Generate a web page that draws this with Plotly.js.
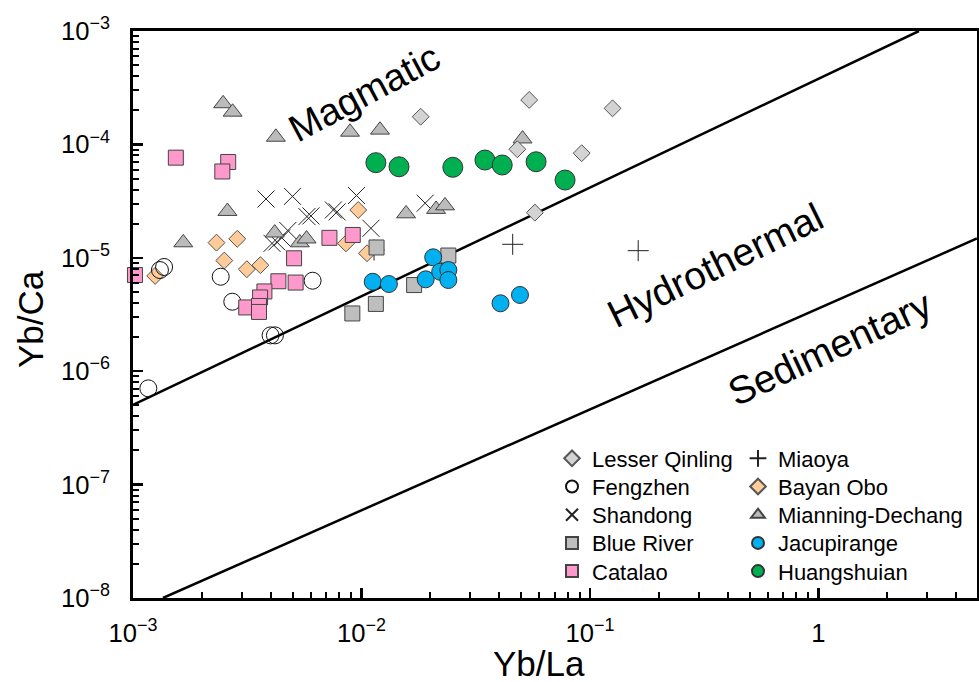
<!DOCTYPE html>
<html>
<head>
<meta charset="utf-8">
<script src="https://cdn.plot.ly/plotly-3.0.1.min.js"></script>
<style>html,body{margin:0;padding:0;background:#fff;}#chart{width:979px;height:682px;}</style>
</head>
<body>
<div id="chart"></div>
<script>
// ---- data (Yb/La, Yb/Ca) ----
const lesserQinlingX = [0.01816, 0.0542, 0.1256, 0.0481, 0.092, 0.0574];
const lesserQinlingY = [1.754e-4, 2.466e-4, 2.08e-4, 9.06e-5, 8.36e-5, 2.50e-5];

const fengzhenX = [0.001368, 0.001312, 0.00242, 0.00272, 0.00611, 0.0040, 0.00418, 0.001167];
const fengzhenY = [8.30e-6, 7.80e-6, 6.81e-6, 4.10e-6, 6.28e-6, 2.07e-6, 2.07e-6, 7.06e-7];

const shandongX = [0.00382, 0.00499, 0.00951, 0.00577, 0.00601, 0.00753, 0.00782, 0.0110, 0.0190, 0.00476, 0.00448, 0.00426, 0.00406];
const shandongY = [3.30e-5, 3.48e-5, 3.54e-5, 2.31e-5, 2.34e-5, 2.64e-5, 2.54e-5, 1.82e-5, 3.03e-5, 1.74e-5, 1.50e-5, 1.38e-5, 1.34e-5];

const blueRiverX = [0.01164, 0.0240, 0.0170, 0.01156, 0.00912];
const blueRiverY = [1.233e-5, 1.047e-5, 5.75e-6, 3.92e-6, 3.23e-6];

const catalaoX = [0.00154, 0.00261, 0.00246, 0.00102, 0.00724, 0.00916, 0.00507, 0.00433, 0.00515, 0.00376, 0.00360, 0.00313, 0.00356, 0.00356];
const catalaoY = [7.64e-5, 7.0e-5, 5.77e-5, 7.05e-6, 1.50e-5, 1.59e-5, 9.9e-6, 6.21e-6, 6.05e-6, 5.05e-6, 4.47e-6, 3.65e-6, 3.76e-6, 3.33e-6];

const miaoyaX = [0.0459, 0.1626, 0.01135];
const miaoyaY = [1.315e-5, 1.156e-5, 1.17e-5];

const bayanOboX = [0.00125, 0.00232, 0.00286, 0.00251, 0.00315, 0.00361, 0.00968, 0.00855, 0.01057];
const bayanOboY = [6.92e-6, 1.36e-5, 1.47e-5, 9.46e-6, 7.93e-6, 8.61e-6, 2.64e-5, 1.34e-5, 1.097e-5];

const mianningX = [0.00248, 0.00273, 0.00422, 0.00891, 0.01205, 0.00259, 0.00166, 0.00417, 0.00537, 0.00575, 0.01567, 0.0212, 0.0232, 0.0507];
const mianningY = [2.29e-4, 1.93e-4, 1.16e-4, 1.285e-4, 1.34e-4, 2.57e-5, 1.36e-5, 1.66e-5, 1.36e-5, 1.47e-5, 2.45e-5, 2.68e-5, 2.88e-5, 1.12e-4];

const jacupirangeX = [0.0112, 0.01318, 0.0206, 0.0191, 0.0221, 0.0240, 0.0240, 0.0406, 0.0494];
const jacupirangeY = [6.15e-6, 5.87e-6, 1.01e-5, 6.46e-6, 7.53e-6, 7.80e-6, 6.37e-6, 3.97e-6, 4.70e-6];

const huangshuianX = [0.01156, 0.0146, 0.0251, 0.0347, 0.0413, 0.0581, 0.0778];
const huangshuianY = [6.90e-5, 6.35e-5, 6.28e-5, 7.28e-5, 6.58e-5, 7.03e-5, 4.85e-5];

// field boundaries
const boundary1X = [1e-3, 2.754];
const boundary1Y = [5.04e-7, 1e-3];
const boundary2X = [1.352e-3, 4.94];
const boundary2Y = [1e-8, 1.48e-5];

const fieldLabels = ['Magmatic', 'Hydrothermal', 'Sedimentary'];

// ---- traces ----
const FONT = 'Liberation Sans, Arial, sans-serif';
function pts(name, x, y, marker, legendId) {
  return {type: 'scatter', mode: 'markers', name: name, x: x, y: y, marker: marker,
          legend: legendId, cliponaxis: false, hoverinfo: 'x+y+name'};
}
const traces = [
  {type: 'scatter', mode: 'lines', x: boundary1X, y: boundary1Y, line: {color: '#000', width: 2.5}, showlegend: false, hoverinfo: 'skip'},
  {type: 'scatter', mode: 'lines', x: boundary2X, y: boundary2Y, line: {color: '#000', width: 2.5}, showlegend: false, hoverinfo: 'skip'},
  pts('Miaoya', miaoyaX, miaoyaY, {symbol: 'cross-thin', size: 15, color: '#222', line: {color: '#222', width: 1}}, 'legend6'),
  pts('Shandong', shandongX, shandongY, {symbol: 'x-thin', size: 17, color: '#222', line: {color: '#222', width: 1}}, 'legend3'),
  pts('Bayan Obo', bayanOboX, bayanOboY, {symbol: 'diamond', size: 13, color: '#FFCC99', line: {color: '#555', width: 1}}, 'legend7'),
  pts('Fengzhen', fengzhenX, fengzhenY, {symbol: 'circle-open', size: 17, color: '#111', line: {color: '#111', width: 1}}, 'legend2'),
  pts('Mianning-Dechang', mianningX, mianningY, {symbol: 'triangle-up', size: 16.5, color: '#BBBBBB', line: {color: '#444', width: 1}}, 'legend8'),
  pts('Catalao', catalaoX, catalaoY, {symbol: 'square', size: 15, color: '#FF99CC', line: {color: '#444', width: 1}}, 'legend5'),
  pts('Blue River', blueRiverX, blueRiverY, {symbol: 'square', size: 15, color: '#BEBEBE', line: {color: '#444', width: 1}}, 'legend4'),
  pts('Lesser Qinling', lesserQinlingX, lesserQinlingY, {symbol: 'diamond', size: 13, color: '#D3D3D3', line: {color: '#555', width: 1}}, 'legend'),
  pts('Jacupirange', jacupirangeX, jacupirangeY, {symbol: 'circle', size: 17, color: '#00B0F0', line: {color: '#333', width: 1}}, 'legend9'),
  pts('Huangshuian', huangshuianX, huangshuianY, {symbol: 'circle', size: 20, color: '#00B050', line: {color: '#333', width: 1}}, 'legend10')
];

// ---- layout ----
const L = 133, R = 977, T = 31, B = 598;
const PW = R - L, PH = B - T;
const px = v => (v - L) / PW;
const py = v => (B - v) / PH;

const axisCommon = {
  type: 'log', dtick: 1, exponentformat: 'power',
  showline: true, linecolor: '#000', linewidth: 3, mirror: true,
  ticks: 'inside', ticklen: 10, tickwidth: 2.5, tickcolor: '#000',
  showgrid: false, zeroline: false,
  tickfont: {family: FONT, size: 20.5, color: '#000'},
  minor: {ticks: 'inside', ticklen: 6, tickwidth: 2, tickcolor: '#000', dtick: 'D1', showgrid: false}
};

const layout = {
  width: 979, height: 682,
  margin: {l: L, r: 979 - R, t: T, b: 682 - B, autoexpand: false},
  paper_bgcolor: '#fff', plot_bgcolor: '#fff',
  font: {family: FONT, color: '#000'},
  xaxis: Object.assign({}, axisCommon, {range: [-3, 0.694], ticklabelstandoff: 11}),
  yaxis: Object.assign({}, axisCommon, {range: [-8, -3], ticklabelstandoff: 16}),
  annotations: [
    {text: 'Yb/La', xref: 'paper', yref: 'paper', x: px(539), y: py(664), showarrow: false,
     font: {family: FONT, size: 35}, xanchor: 'center', yanchor: 'middle'},
    {text: 'Yb/Ca', xref: 'paper', yref: 'paper', x: px(30), y: py(319), showarrow: false, textangle: -90,
     font: {family: FONT, size: 35}, xanchor: 'center', yanchor: 'middle'},
    {text: fieldLabels[0], xref: 'paper', yref: 'paper', x: px(364), y: py(93), showarrow: false, textangle: -28,
     font: {family: FONT, size: 38}, xanchor: 'center', yanchor: 'middle'},
    {text: fieldLabels[1], xref: 'paper', yref: 'paper', x: px(715), y: py(265), showarrow: false, textangle: -26,
     font: {family: FONT, size: 39}, xanchor: 'center', yanchor: 'middle'},
    {text: fieldLabels[2], xref: 'paper', yref: 'paper', x: px(829), y: py(348), showarrow: false, textangle: -25,
     font: {family: FONT, size: 39}, xanchor: 'center', yanchor: 'middle'}
  ],
  showlegend: true
};

// legends: two columns of five rows
const legendIds = ['legend', 'legend2', 'legend3', 'legend4', 'legend5', 'legend6', 'legend7', 'legend8', 'legend9', 'legend10'];
const colLeft = [552, 738];
const row0 = 458.3, rowStep = 28.2;
legendIds.forEach((id, i) => {
  const col = Math.floor(i / 5), row = i % 5;
  layout[id] = {
    x: px(colLeft[col]), y: py(row0 + row * rowStep - 20.8), xanchor: 'left', yanchor: 'top',
    bgcolor: 'rgba(0,0,0,0)', borderwidth: 0, itemsizing: 'constant',
    font: {family: FONT, size: 22, color: '#000'}
  };
});

Plotly.newPlot('chart', traces, layout, {displayModeBar: false, staticPlot: true});
</script>
</body>
</html>
